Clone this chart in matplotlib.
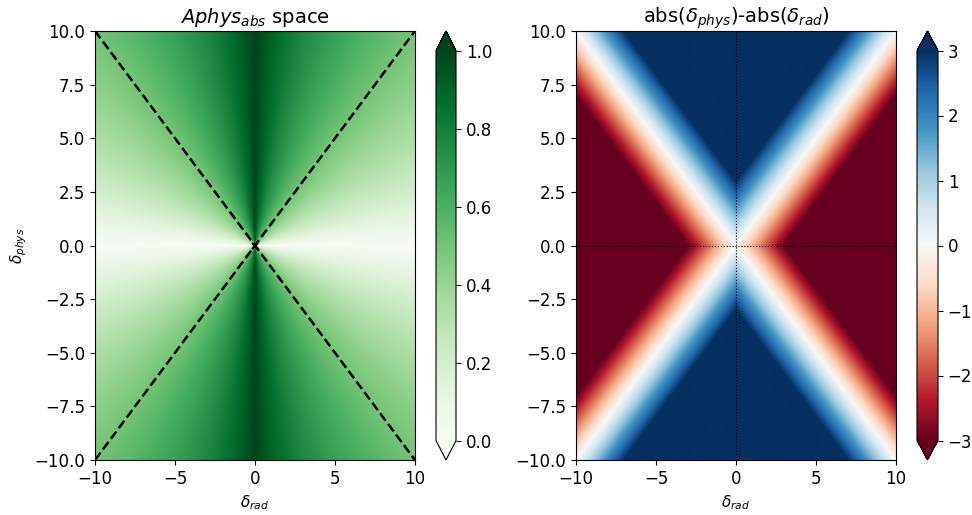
import numpy as np
import matplotlib
matplotlib.use("Agg")
import matplotlib.pyplot as plt

# grid axes
delta_rad = np.linspace(-10, 10, 501)
delta_phys = np.linspace(-10, 10, 501)
x_ticks = [-10, -5, 0, 5, 10]
y_ticks = [-10.0, -7.5, -5.0, -2.5, 0.0, 2.5, 5.0, 7.5, 10.0]

R, P = np.meshgrid(delta_rad, delta_phys)
with np.errstate(invalid="ignore", divide="ignore"):
    aphys = np.abs(P) / (np.abs(P) + np.abs(R))
diff = np.abs(P) - np.abs(R)

W, H = 972, 515
fig = plt.figure(figsize=(W / 100, H / 100), dpi=100)

def rect(x0, x1, y0, y1):
    return [x0 / W, 1 - y1 / H, (x1 - x0) / W, (y1 - y0) / H]

ax1 = fig.add_axes(rect(95, 415, 31, 460))
cax1 = fig.add_axes(rect(436, 456, 31, 460))
ax2 = fig.add_axes(rect(576, 896, 31, 460))
cax2 = fig.add_axes(rect(917, 938, 31, 460))

ext = [-10, 10, -10, 10]
im1 = ax1.imshow(aphys, extent=ext, origin="lower", aspect="auto",
                 cmap="Greens", vmin=0, vmax=1, interpolation="bilinear")
ax1.plot([-10, 10], [-10, 10], "k--", lw=1.8)
ax1.plot([-10, 10], [10, -10], "k--", lw=1.8)
ax1.plot([0], [0], "kx", ms=4, mew=1.5)
ax1.set_xlim(-10, 10)
ax1.set_ylim(-10, 10)
ax1.set_title(r"$Aphys_{abs}$ space", fontsize=14)
ax1.set_xlabel(r"$\delta_{rad}$", fontsize=11)
ax1.set_ylabel(r"$\delta_{phys}$", fontsize=11)
ax1.set_xticks(x_ticks)
ax1.set_yticks(y_ticks)
cb1 = fig.colorbar(im1, cax=cax1, extend="both")
cb1.set_ticks([0, 0.2, 0.4, 0.6, 0.8, 1.0])

im2 = ax2.imshow(diff, extent=ext, origin="lower", aspect="auto",
                 cmap="RdBu", vmin=-3, vmax=3, interpolation="bilinear")
ax2.axvline(0, color="k", ls=":", lw=0.8)
ax2.axhline(0, color="k", ls=":", lw=0.8)
ax2.set_xlim(-10, 10)
ax2.set_ylim(-10, 10)
ax2.set_title(r"abs($\delta_{phys}$)-abs($\delta_{rad}$)", fontsize=14)
ax2.set_xlabel(r"$\delta_{rad}$", fontsize=11)
ax2.set_xticks(x_ticks)
ax2.set_yticks(y_ticks)
cb2 = fig.colorbar(im2, cax=cax2, extend="both")
cb2.set_ticks([-3, -2, -1, 0, 1, 2, 3])

for ax in (ax1, ax2, cax1, cax2):
    ax.tick_params(labelsize=12)

fig.savefig("out.png", dpi=100)
